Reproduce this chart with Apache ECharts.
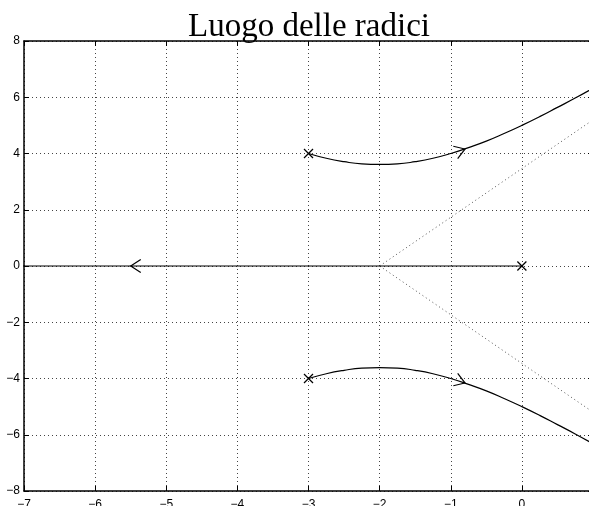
<!DOCTYPE html>
<html>
<head>
<meta charset="utf-8">
<script src="https://cdn.jsdelivr.net/npm/echarts@6/dist/echarts.min.js"></script>
<style>
html,body{margin:0;padding:0;background:#fff;}
#chart{width:589px;height:506px;}
</style>
</head>
<body>
<div id="chart"></div>
<script>
// Root locus branches
var upperBranch = [
  [-3.00,4.00],[-2.75,3.83],[-2.50,3.71],[-2.25,3.63],[-2.00,3.61],[-1.75,3.63],
  [-1.50,3.71],[-1.25,3.83],[-1.00,4.00],[-0.75,4.21],[-0.50,4.44],[-0.25,4.71],
  [0.00,5.00],[0.25,5.31],[0.50,5.64],[0.75,5.97],[1.00,6.32]
];
var lowerBranch = [
  [-3.00,-4.00],[-2.75,-3.83],[-2.50,-3.71],[-2.25,-3.63],[-2.00,-3.61],[-1.75,-3.63],
  [-1.50,-3.71],[-1.25,-3.83],[-1.00,-4.00],[-0.75,-4.21],[-0.50,-4.44],[-0.25,-4.71],
  [0.00,-5.00],[0.25,-5.31],[0.50,-5.64],[0.75,-5.97],[1.00,-6.32]
];
var realBranch = [[-7.5,0],[0,0]];
var asymptoteUp = [[-2,0],[1,5.196]];
var asymptoteDown = [[-2,0],[1,-5.196]];
var poles = [[-3,4],[-3,-4],[0,0]];
// arrows: [x, y, x of direction point, y of direction point]
var arrows = [[-0.8,4.16,-0.7,4.25],[-0.8,-4.16,-0.7,-4.25],[-5.5,0,-5.6,0]];
var titleText = 'Luogo delle radici';
var xMin = -7, xMax = 1, xStep = 1;
var yMin = -8, yMax = 8, yStep = 2;

function fmt(v){ return v < 0 ? '\u2212' + Math.abs(v) : String(v); }

var gridLine = {show:true, lineStyle:{color:'#444', width:1, type:[1,3]}};
var axisLine = {show:true, onZero:false, lineStyle:{color:'#000', width:1.5}};
var tickIn = {show:true, inside:true, length:5, lineStyle:{color:'#000', width:1}};
var labelStyle = {color:'#000', fontFamily:'Liberation Sans', fontSize:12};

var chart = echarts.init(document.getElementById('chart'), null, {renderer:'canvas'});
chart.setOption({
  animation:false,
  backgroundColor:'#fff',
  graphic:[{type:'text', x:309, y:27, style:{text:titleText, font:'33px "Liberation Serif"', fill:'#000', textAlign:'center', textVerticalAlign:'middle'}}],
  grid:{left:24, top:41, right:-4, bottom:15, containLabel:false, outerBoundsMode:'none'},
  xAxis:[
    {type:'value', min:xMin, max:xMax, interval:xStep, position:'bottom',
     axisLine:axisLine, axisTick:tickIn, splitLine:gridLine,
     axisLabel:Object.assign({margin:8, formatter:fmt}, labelStyle)},
    {type:'value', min:xMin, max:xMax, interval:xStep, position:'top',
     axisLine:axisLine, axisTick:tickIn, splitLine:{show:false}, axisLabel:{show:false}}
  ],
  yAxis:[
    {type:'value', min:yMin, max:yMax, interval:yStep, position:'left',
     axisLine:axisLine, axisTick:tickIn, splitLine:gridLine,
     axisLabel:Object.assign({margin:4, formatter:fmt}, labelStyle)},
    {type:'value', min:yMin, max:yMax, interval:yStep, position:'right',
     axisLine:axisLine, axisTick:tickIn, splitLine:{show:false}, axisLabel:{show:false}}
  ],
  series:[
    {type:'line', data:asymptoteUp, symbol:'none', lineStyle:{color:'#555', width:1, type:[1,3]}, z:2},
    {type:'line', data:asymptoteDown, symbol:'none', lineStyle:{color:'#555', width:1, type:[1,3]}, z:2},
    {type:'line', data:upperBranch, symbol:'none', smooth:true, lineStyle:{color:'#000', width:1.2}, z:3},
    {type:'line', data:lowerBranch, symbol:'none', smooth:true, lineStyle:{color:'#000', width:1.2}, z:3},
    {type:'line', data:realBranch, symbol:'none', lineStyle:{color:'#000', width:1.2}, z:3},
    {type:'custom', data:poles, z:4,
     renderItem:function(params, api){
       var p = api.coord([api.value(0), api.value(1)]);
       var h = 4.5;
       return {type:'group', children:[
         {type:'line', shape:{x1:p[0]-h,y1:p[1]-h,x2:p[0]+h,y2:p[1]+h}, style:{stroke:'#000', lineWidth:1.2}},
         {type:'line', shape:{x1:p[0]-h,y1:p[1]+h,x2:p[0]+h,y2:p[1]-h}, style:{stroke:'#000', lineWidth:1.2}}
       ]};
     }},
    {type:'custom', data:arrows, z:4,
     renderItem:function(params, api){
       var p = api.coord([api.value(0), api.value(1)]);
       var q = api.coord([api.value(2), api.value(3)]);
       var a = Math.atan2(q[1]-p[1], q[0]-p[0]);
       var L = 12, s = 33*Math.PI/180;
       var b1 = a + Math.PI - s, b2 = a + Math.PI + s;
       return {type:'polyline', shape:{points:[
         [p[0]+L*Math.cos(b1), p[1]+L*Math.sin(b1)], p, [p[0]+L*Math.cos(b2), p[1]+L*Math.sin(b2)]
       ]}, style:{stroke:'#000', lineWidth:1.2, fill:null}};
     }}
  ]
});
</script>
</body>
</html>
